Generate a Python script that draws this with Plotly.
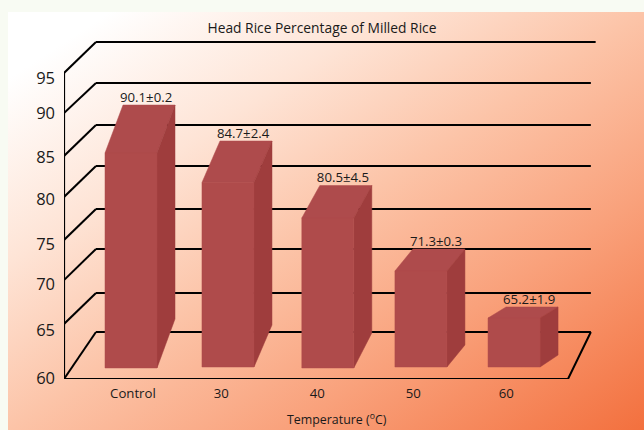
import base64
import plotly.graph_objects as go

# ---- data ----
categories = ["Control", "30", "40", "50", "60"]
value_labels = ["90.1±0.2", "84.7±2.4", "80.5±4.5", "71.3±0.3", "65.2±1.9"]
front_top = [85.83, 82.46, 78.4, 72.34, 66.97]
back_top = [91.31, 87.2, 82.11, 74.86, 68.23]
front_base = [61.26, 61.37, 61.26, 61.37, 61.37]
back_base = [66.86, 66.17, 65.26, 63.89, 62.74]
tick_labels = ["60", "65", "70", "75", "80", "85", "90", "95"]
tick_label_levels = [60.11, 65.6, 70.86, 75.43, 80.57, 85.37, 90.4, 94.4]
front_levels = [60.0, 66.29, 71.31, 75.89, 80.8, 85.49, 90.4, 94.97]
back_levels = [65.37, 69.83, 74.86, 79.43, 84.34, 89.03, 93.83, 98.51]

# ---- layout constants (axis x unit = one category slot) ----
W, H = 644, 430
ML, MR, MT, MB = 64, 40, 29, 51
PITCH = 96.0
X0 = -0.698
X1 = X0 + (W - ML - MR) / PITCH
bar_nudge = [0.0, 0.01, 0.05, 0.02, -0.01]
label_nudge = [0.02, -0.06, -0.06, -0.06, -0.09]
HALF = 26 / PITCH
DEPTH = 18 / PITCH
WALL_L = -0.365
WALL_R = 4.79
FLOOR_R = 4.552
LEFT_X = X0
FRONT = "#af4b4b"
SIDE = "#9f3d3d"
TOP = "#ae4b4c"
FONT = "Open Sans"

svg = f'''<svg xmlns="http://www.w3.org/2000/svg" width="636" height="418"><defs>
<linearGradient id="g" x1="0" y1="0" x2="1" y2="1">
<stop offset="0.08" stop-color="#ffffff"/>
<stop offset="0.30" stop-color="#fee4d6"/>
<stop offset="0.50" stop-color="#fcc4a8"/>
<stop offset="0.72" stop-color="#f9a17b"/>
<stop offset="1" stop-color="#f3703e"/>
</linearGradient></defs><rect width="636" height="418" fill="url(#g)"/></svg>'''
uri = "data:image/svg+xml;base64," + base64.b64encode(svg.encode()).decode()

fig = go.Figure()


def line(x, y, width=2.0):
    fig.add_trace(go.Scatter(x=x, y=y, mode="lines", line=dict(color="black", width=width),
                             hoverinfo="skip", showlegend=False, cliponaxis=False))


def face(x, y, color):
    fig.add_trace(go.Scatter(x=x, y=y, mode="lines", fill="toself", fillcolor=color,
                             line=dict(color=color, width=0.5), hoverinfo="skip",
                             showlegend=False, cliponaxis=False))


# walls
for fl, bl in zip(front_levels, back_levels):
    line([LEFT_X, WALL_L], [fl, bl])
    line([WALL_L, WALL_R + 0.05 * (bl > 95)], [bl, bl])
line([LEFT_X, LEFT_X], [front_levels[0], front_levels[-1]], 2.2)
line([LEFT_X - 0.01, FLOOR_R, WALL_R], [front_levels[0], front_levels[0], back_levels[0]], 2.0)

# bars
for i in range(len(categories)):
    c = i + bar_nudge[i]
    l, r = c - HALF, c + HALF
    face([l, r, r + DEPTH, l + DEPTH, l],
         [front_top[i], front_top[i], back_top[i], back_top[i], front_top[i]], TOP)
    face([r, r + DEPTH, r + DEPTH, r, r],
         [front_top[i], back_top[i], back_base[i], front_base[i], front_top[i]], SIDE)
    face([l, r, r, l, l],
         [front_base[i], front_base[i], front_top[i], front_top[i], front_base[i]], FRONT)

# value labels
fig.add_trace(go.Scatter(
    x=[i + bar_nudge[i] + DEPTH - 0.03 for i in range(len(categories))],
    y=back_top, mode="text", text=value_labels, textposition="top center",
    textfont=dict(family=FONT, size=13.2, color="#1a1a1a"),
    hoverinfo="skip", showlegend=False, cliponaxis=False))

fig.update_layout(
    width=W, height=H, autosize=False,
    margin=dict(l=ML, r=MR, t=MT, b=MB),
    paper_bgcolor="#f8fbf3", plot_bgcolor="rgba(0,0,0,0)",
    font=dict(family=FONT, color="#1a1a1a"),
    showlegend=False,
    title=dict(text="Head Rice Percentage of Milled Rice", x=322 / W, xanchor="center",
               y=1 - 28 / H, yanchor="middle", font=dict(family=FONT, size=13.8, color="#1a1a1a")),
    xaxis=dict(range=[X0, X1], showgrid=False, zeroline=False, showline=False, ticks="",
               automargin=False,
               tickmode="array", tickvals=[i + label_nudge[i] for i in range(len(categories))],
               ticktext=categories, tickfont=dict(family=FONT, size=13.2, color="#1a1a1a"),
               ticklabelstandoff=5),
    yaxis=dict(range=[60, 100], showgrid=False, zeroline=False, showline=False, ticks="",
               automargin=False,
               tickmode="array", tickvals=tick_label_levels, ticktext=tick_labels,
               tickfont=dict(family=FONT, size=16.5, color="#1a1a1a"), ticklabelstandoff=8),
    annotations=[dict(text="Temperature (<sup>o</sup>C)", xref="paper", yref="paper",
                      x=(336.5 - ML) / (W - ML - MR), y=(H - MB - 419) / (H - MT - MB),
                      xanchor="center", yanchor="middle", showarrow=False,
                      font=dict(family=FONT, size=12.4, color="#1a1a1a"))],
    images=[dict(source=uri, xref="paper", yref="paper", layer="below", sizing="stretch",
                 x=(8 - ML) / (W - ML - MR), y=(H - MB - 12) / (H - MT - MB),
                 sizex=636 / (W - ML - MR), sizey=418 / (H - MT - MB),
                 xanchor="left", yanchor="top")],
)
fig.write_html("out.html", config=dict(displayModeBar=False),
               post_script="document.body.style.margin='0';document.documentElement.style.overflow='hidden';")
